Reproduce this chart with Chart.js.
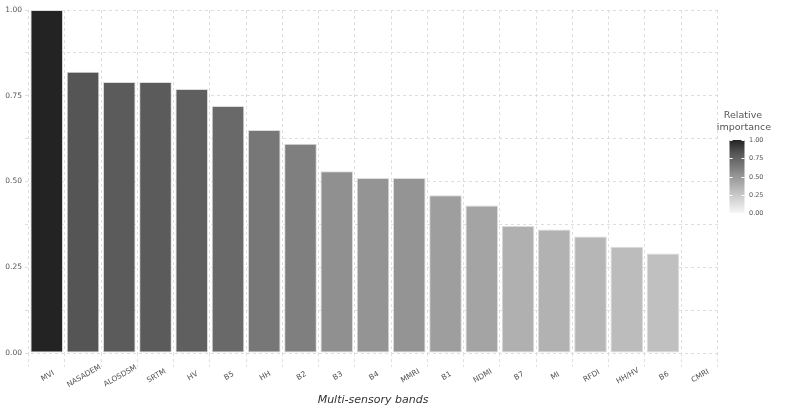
<!DOCTYPE html>
<html>
<head>
<meta charset="utf-8">
<script src="https://cdn.jsdelivr.net/npm/chart.js@4"></script>
<style>
html,body{margin:0;padding:0;background:#fff;}
#wrap{width:787px;height:414px;}
</style>
</head>
<body>
<div id="wrap"><canvas id="c" width="787" height="414"></canvas></div>
<script>
const categories = ['MVI','NASADEM','ALOSDSM','SRTM','HV','B5','HH','B2','B3','B4','MMRI','B1','NDMI','B7','MI','RFDI','HH/HV','B6','CMRI'];
const importance = [1.00,0.82,0.79,0.79,0.77,0.72,0.65,0.61,0.53,0.51,0.51,0.46,0.43,0.37,0.36,0.34,0.31,0.29,0.00];
const yTickLabels = ['0.00','0.25','0.50','0.75','1.00'];
const legendTicks = [0, 0.25, 0.5, 0.75, 1];
const legendLabels = ['0.00','0.25','0.50','0.75','1.00'];
const xTitle = 'Multi-sensory bands';
const legendTitle = ['Relative','importance'];

// gray ramp anchors (style)
const rampV = [0, 0.29, 0.82, 1];
const rampG = [246, 192, 85, 35];
function grayFor(v){
  let g = rampG[0];
  for (let k=1;k<rampV.length;k++){
    if (v <= rampV[k]){
      const t = (v - rampV[k-1])/(rampV[k]-rampV[k-1]);
      g = rampG[k-1] + t*(rampG[k]-rampG[k-1]);
      break;
    }
  }
  g = Math.round(g);
  return 'rgb('+g+','+g+','+g+')';
}

const FONT = '"DejaVu Sans", Verdana, sans-serif';

const overlay = {
  id:'overlay',
  afterDraw(chart){
    const ctx = chart.ctx;
    const xs = chart.scales.x;
    ctx.save();
    ctx.fillStyle = '#555';
    ctx.font = '7.5px ' + FONT;
    ctx.textAlign = 'center';
    ctx.textBaseline = 'middle';
    categories.forEach((c,i)=>{
      const x = xs.getPixelForValue(i);
      ctx.save();
      ctx.translate(x+1, 376);
      ctx.rotate(-30*Math.PI/180);
      ctx.fillText(c, 0, 0);
      ctx.restore();
    });
    ctx.fillStyle = '#333';
    ctx.font = 'italic 11px ' + FONT;
    ctx.fillText(xTitle, (chart.chartArea.left+chart.chartArea.right)/2, 400);

    const bx = 729.5, bw = 15, top = 140, bot = 213;
    const grad = ctx.createLinearGradient(0, top, 0, bot);
    for(let k=0;k<=40;k++){
      const v = 1 - k/40;
      grad.addColorStop(k/40, grayFor(v));
    }
    ctx.fillStyle = grad;
    ctx.fillRect(bx, top, bw, bot-top);
    ctx.strokeStyle = '#fff';
    ctx.lineWidth = 1;
    legendTicks.forEach(v=>{
      const y = Math.round(bot - v*(bot-top)) + 0.5;
      ctx.beginPath();
      ctx.moveTo(bx, y); ctx.lineTo(bx+3, y);
      ctx.moveTo(bx+bw-3, y); ctx.lineTo(bx+bw, y);
      ctx.stroke();
    });
    ctx.fillStyle = '#555';
    ctx.font = '6.5px ' + FONT;
    ctx.textAlign = 'left';
    legendTicks.forEach((v,i)=>{
      const y = bot - v*(bot-top);
      ctx.fillText(legendLabels[i], 749, y+0.5);
    });
    ctx.font = '9.5px ' + FONT;
    ctx.textAlign = 'center';
    ctx.fillText(legendTitle[0], 743, 116);
    ctx.fillText(legendTitle[1], 744, 128);
    ctx.restore();
  }
};

new Chart(document.getElementById('c'), {
  type:'bar',
  data:{
    datasets:[{
      data: importance.map((v,i)=>({x:i, y:v})),
      backgroundColor: importance.map(grayFor),
      borderColor: '#dcdcdc',
      borderWidth: 1,
      borderSkipped: false,
      barPercentage: 0.9,
      categoryPercentage: 1.0
    }]
  },
  options:{
    responsive:false,
    animation:false,
    layout:{padding:{left:0,right:66,top:10,bottom:0}},
    plugins:{legend:{display:false},tooltip:{enabled:false}},
    scales:{
      x:{
        type:'linear',
        min:-0.6, max:18.6,
        offset:false,
        grid:{color:'#dedede',lineWidth:1,drawTicks:true,tickLength:14,tickColor:'#dedede',tickBorderDash:[3,3]},
        border:{display:false,dash:[3,3]},
        ticks:{display:false,stepSize:1,includeBounds:false},
        afterFit(s){ s.height = 61; }
      },
      y:{
        min:0,max:1,
        grid:{color:'#dedede',lineWidth:1,drawTicks:false},
        border:{display:false,dash:[3,3]},
        ticks:{
          stepSize:0.125,
          padding:3,
          color:'#555',
          font:{family:FONT,size:7.5},
          callback(v){
            const q = v*4;
            if (Math.abs(q-Math.round(q))<1e-6) return yTickLabels[Math.round(q)];
            return '';
          }
        },
        afterFit(s){ s.width = 25; }
      }
    }
  },
  plugins:[overlay]
});
</script>
</body>
</html>
